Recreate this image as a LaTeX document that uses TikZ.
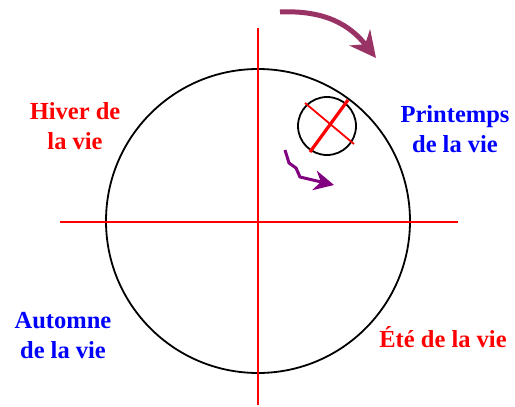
\documentclass[tikz,border=0pt]{standalone}
\usepackage{fontspec}
\setmainfont{Liberation Serif}
\usetikzlibrary{arrows.meta}
\definecolor{prune}{RGB}{153,51,102}
\definecolor{violet}{RGB}{128,0,128}
\tikzset{
  saison/.style={font=\bfseries\fontsize{24.5}{30}\selectfont,align=center},
  axe/.style={red,line width=2.2pt},
}
\begin{document}
\begin{tikzpicture}[x=1pt,y=-1pt]
    \useasboundingbox (0,0) rectangle (515,407);
    % grand cercle
    \draw[line width=1.8pt] (258,221) circle (152);
    % axes
    \draw[axe] (258,28) -- (258,405);
    \draw[axe] (60,222) -- (458,222);
    % petit cercle et croix
    \draw[line width=1.8pt] (327,126) circle (29);
    \draw[red,line width=1.8pt] (305,103) -- (354,144);
    \draw[red,line width=3.2pt] (348,100) -- (310,152);
    % fleches
    \coordinate (h0) at (280,12);
    \coordinate (h1) at (376,58);
    \draw[prune,line width=5pt,-{Stealth[length=26pt,width=26pt]}]
      (h0) .. controls (325,10) and (350,25) .. (h1);
    \coordinate (p0) at (285,150);
    \coordinate (p1) at (334,185);
    \draw[violet,line width=3pt,-{Stealth[length=20pt,width=20pt]}]
      (p0) -- (289,163) -- (296,168) -- (300,177) -- (p1);
    % textes
    \node[saison,red] (hiver) at (75,126) {Hiver de\\la vie};
    \node[saison,blue] (printemps) at (455,129) {Printemps\\de la vie};
    \node[saison,blue] (automne) at (63,336) {Automne\\de la vie};
    \node[saison,red] (ete) at (443,337) {Été de la vie};
\end{tikzpicture}
\end{document}
